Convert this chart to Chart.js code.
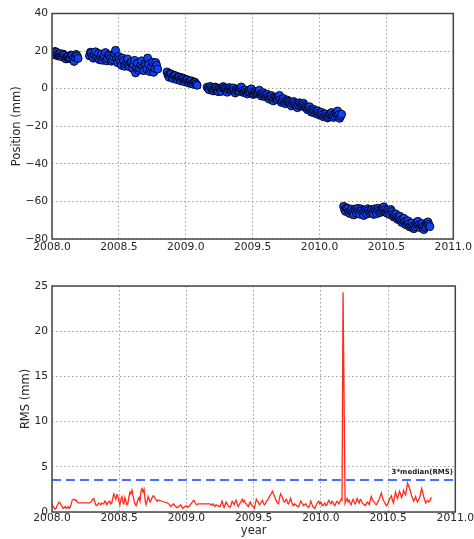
<!DOCTYPE html>
<html>
<head>
<meta charset="utf-8">
<script src="https://cdn.jsdelivr.net/npm/chart.js@4.4.1/dist/chart.umd.min.js"></script>
<style>
  html, body { margin: 0; padding: 0; background: #fff; }
  #wrap { position: relative; width: 474px; height: 539px; }
  canvas { position: absolute; left: 0; }
</style>
</head>
<body>
<div id="wrap">
  <canvas id="posChart" width="474" height="270" style="top:0"></canvas>
  <canvas id="rmsChart" width="474" height="269" style="top:270px"></canvas>
</div>
<script>
// epochs (decimal year), shared by both panels
const years = [
  // 2008.0 - 2008.2
  2008.000, 2008.015, 2008.030, 2008.045, 2008.060, 2008.075, 2008.090, 2008.105, 2008.120, 2008.135,
  2008.150, 2008.165, 2008.180, 2008.195,
  // 2008.28 - 2008.8
  2008.280, 2008.295, 2008.310, 2008.325, 2008.340, 2008.355, 2008.370, 2008.385, 2008.400, 2008.415,
  2008.430, 2008.445, 2008.460, 2008.475, 2008.490, 2008.505, 2008.520, 2008.535, 2008.550, 2008.565,
  2008.580, 2008.595, 2008.610, 2008.625, 2008.640, 2008.655, 2008.670, 2008.685, 2008.700, 2008.715,
  2008.730, 2008.745, 2008.760, 2008.775, 2008.790,
  // 2008.86 - 2009.09
  2008.860, 2008.875, 2008.890, 2008.905, 2008.920, 2008.935, 2008.950, 2008.965, 2008.980, 2008.995,
  2009.010, 2009.025, 2009.040, 2009.055, 2009.070, 2009.085,
  // 2009.16 - 2010.17
  2009.160, 2009.175, 2009.190, 2009.205, 2009.220, 2009.235, 2009.250, 2009.265, 2009.280, 2009.295,
  2009.310, 2009.325, 2009.340, 2009.355, 2009.370, 2009.385, 2009.400, 2009.415, 2009.430, 2009.445,
  2009.460, 2009.475, 2009.490, 2009.505, 2009.520, 2009.535, 2009.550, 2009.565, 2009.580, 2009.595,
  2009.610, 2009.625, 2009.640, 2009.655, 2009.670, 2009.685, 2009.700, 2009.715, 2009.730, 2009.745,
  2009.760, 2009.775, 2009.790, 2009.805, 2009.820, 2009.835, 2009.850, 2009.865, 2009.880, 2009.895,
  2009.910, 2009.925, 2009.940, 2009.955, 2009.970, 2009.985, 2010.000, 2010.015, 2010.030, 2010.045,
  2010.060, 2010.075, 2010.090, 2010.105, 2010.120, 2010.135, 2010.150, 2010.165,
  // 2010.18 - 2010.83
  2010.180, 2010.195, 2010.210, 2010.225, 2010.240, 2010.255, 2010.270, 2010.285, 2010.300, 2010.315,
  2010.330, 2010.345, 2010.360, 2010.375, 2010.390, 2010.405, 2010.420, 2010.435, 2010.450, 2010.465,
  2010.480, 2010.495, 2010.510, 2010.525, 2010.540, 2010.555, 2010.570, 2010.585, 2010.600, 2010.615,
  2010.630, 2010.645, 2010.660, 2010.675, 2010.690, 2010.705, 2010.720, 2010.735, 2010.750, 2010.765,
  2010.780, 2010.795, 2010.810, 2010.825
];

// position (mm)
const position = [
  19.2, 18.0, 19.5, 17.4, 18.6, 16.9, 17.8, 15.8, 17.2, 16.3, 17.6, 14.5, 18.2, 16.1,

  17.5, 18.9, 16.2, 19.6, 17.1, 15.4, 18.3, 16.8, 19.2, 15.9,
  17.4, 14.6, 16.9, 20.4, 13.8, 15.6, 12.4, 14.9, 13.1, 15.8,
  11.6, 14.2, 12.8, 8.4, 13.5, 10.9, 14.8, 9.6, 12.2, 16.3,
  9.1, 11.8, 8.7, 13.9, 10.4,

  8.9, 6.1, 7.8, 5.4, 6.9, 4.8, 6.2, 4.1, 5.3, 3.6, 4.7, 2.9, 4.2, 2.4, 3.3, 1.8,

  0.8, -0.6, 0.3, -1.2, 0.9, -0.8, 0.2, -1.5, 1.1, -0.4,
  -1.9, 0.6, -1.1, 0.4, -2.3, -0.2, -1.4, 0.9, -2.0, -0.7,
  -2.8, -1.0, -0.1, -3.1, -1.6, -2.6, -0.8, -3.9, -2.2, -4.4,
  -3.0, -5.6, -3.7, -6.5, -4.6, -5.9, -3.6, -7.3, -5.2, -8.0,
  -6.1, -7.4, -9.2, -6.8, -8.6, -10.1, -7.5, -9.3, -7.8, -9.8,
  -11.2, -9.6, -12.5, -11.0, -13.2, -11.8, -14.1, -12.6, -15.0, -13.4,
  -15.6, -14.0, -12.7, -15.3, -13.1, -11.9, -15.8, -13.6,

  -62.6, -65.3, -63.8, -66.4, -64.1, -67.2, -65.0, -63.7, -66.8, -64.9,
  -67.5, -65.6, -63.9, -66.2, -64.4, -66.9, -65.1, -63.6, -66.0, -64.3,
  -62.9, -65.8, -64.6, -67.0, -65.4, -68.3, -66.7, -69.6, -67.9, -71.2,
  -69.0, -72.4, -70.3, -73.6, -71.5, -74.5, -72.2, -70.6, -73.9, -71.8,
  -75.0, -72.7, -70.9, -73.4
];

// RMS (mm)
const rms = [
  0.8, 0.5, 0.4, 0.9, 1.0, 0.6, 0.5, 0.4, 0.6, 0.5, 1.3, 1.4, 1.3, 1.0,

  1.0, 1.2, 1.5, 0.8, 0.8, 0.9, 1.0, 0.9, 1.1, 1.0,
  1.2, 1.0, 2.0, 1.4, 1.8, 0.8, 1.7, 0.9, 1.2, 1.0,
  2.2, 2.4, 1.3, 0.7, 1.4, 1.2, 2.6, 2.5, 0.8, 1.7,
  1.1, 1.6, 1.7, 1.4, 1.3,

  1.0, 0.8, 0.7, 0.9, 0.6, 0.5, 0.7, 0.6, 0.5, 0.6, 0.5, 0.7, 1.0, 1.3, 0.9, 0.9,

  0.9, 0.9, 0.8, 0.7, 0.8, 0.7, 0.6, 1.2, 0.5, 1.1,
  0.7, 0.5, 1.2, 0.8, 1.3, 0.6, 1.0, 1.4, 1.3, 0.9,
  0.6, 1.1, 0.7, 0.4, 1.4, 1.1, 0.9, 1.3, 0.8, 1.2,
  1.5, 1.9, 2.3, 1.8, 1.2, 0.9, 2.0, 1.6, 1.1, 1.4,
  0.9, 1.5, 0.8, 0.9, 0.7, 0.6, 1.2, 0.9, 0.8, 0.7,
  0.5, 1.2, 0.6, 0.4, 0.9, 1.2, 1.1, 0.7, 1.0, 0.8,
  1.3, 0.9, 1.1, 0.7, 1.2, 0.9, 1.4, 24.3,

  1.0, 1.5, 1.3, 0.8, 1.4, 0.9, 1.5, 1.0, 1.3, 0.9,
  0.7, 1.1, 0.8, 1.7, 1.2, 0.9, 1.0, 1.5, 2.1, 1.3,
  0.9, 0.8, 1.4, 1.8, 1.0, 2.2, 1.5, 2.3, 1.6, 2.4,
  1.9, 3.2, 2.6, 1.8, 1.2, 1.7, 1.1, 1.6, 2.6, 1.7,
  1.0, 1.3, 1.2, 1.6
];

// in-between epochs (the series is denser than one value per 0.015 yr)
const midYears = [
  2008.0075, 2008.0225, 2008.0375, 2008.0525, 2008.0675, 2008.0825, 2008.0975, 2008.1125, 2008.1275, 2008.1425,
  2008.1575, 2008.1725, 2008.1875,

  2008.2875, 2008.3025, 2008.3175, 2008.3325, 2008.3475, 2008.3625, 2008.3775, 2008.3925, 2008.4075, 2008.4225,
  2008.4375, 2008.4525, 2008.4675, 2008.4825, 2008.4975, 2008.5125, 2008.5275, 2008.5425, 2008.5575, 2008.5725,
  2008.5875, 2008.6025, 2008.6175, 2008.6325, 2008.6475, 2008.6625, 2008.6775, 2008.6925, 2008.7075, 2008.7225,
  2008.7375, 2008.7525, 2008.7675, 2008.7825,

  2008.8675, 2008.8825, 2008.8975, 2008.9125, 2008.9275, 2008.9425, 2008.9575, 2008.9725, 2008.9875, 2009.0025,
  2009.0175, 2009.0325, 2009.0475, 2009.0625, 2009.0775,

  2009.1675, 2009.1825, 2009.1975, 2009.2125, 2009.2275, 2009.2425, 2009.2575, 2009.2725, 2009.2875, 2009.3025,
  2009.3175, 2009.3325, 2009.3475, 2009.3625, 2009.3775, 2009.3925, 2009.4075, 2009.4225, 2009.4375, 2009.4525,
  2009.4675, 2009.4825, 2009.4975, 2009.5125, 2009.5275, 2009.5425, 2009.5575, 2009.5725, 2009.5875, 2009.6025,
  2009.6175, 2009.6325, 2009.6475, 2009.6625, 2009.6775, 2009.6925, 2009.7075, 2009.7225, 2009.7375, 2009.7525,
  2009.7675, 2009.7825, 2009.7975, 2009.8125, 2009.8275, 2009.8425, 2009.8575, 2009.8725, 2009.8875, 2009.9025,
  2009.9175, 2009.9325, 2009.9475, 2009.9625, 2009.9775, 2009.9925, 2010.0075, 2010.0225, 2010.0375, 2010.0525,
  2010.0675, 2010.0825, 2010.0975, 2010.1125, 2010.1275, 2010.1425, 2010.1575,

  2010.1875, 2010.2025, 2010.2175, 2010.2325, 2010.2475, 2010.2625, 2010.2775, 2010.2925, 2010.3075, 2010.3225,
  2010.3375, 2010.3525, 2010.3675, 2010.3825, 2010.3975, 2010.4125, 2010.4275, 2010.4425, 2010.4575, 2010.4725,
  2010.4875, 2010.5025, 2010.5175, 2010.5325, 2010.5475, 2010.5625, 2010.5775, 2010.5925, 2010.6075, 2010.6225,
  2010.6375, 2010.6525, 2010.6675, 2010.6825, 2010.6975, 2010.7125, 2010.7275, 2010.7425, 2010.7575, 2010.7725,
  2010.7875, 2010.8025, 2010.8175
];

const midPosition = [
  18.1, 19.8, 18.3, 17.9, 17.5, 18.4, 16.6, 16.9, 16.0, 17.9, 15.9, 16.8, 17.4,

  19.4, 17.2, 18.0, 16.4, 18.7, 16.9, 15.1, 17.6, 14.8, 18.0,
  16.1, 15.5, 18.6, 16.2, 17.1, 14.0, 16.3, 11.9, 14.4, 12.7,
  13.9, 10.7, 15.0, 11.2, 9.8, 12.6, 11.3, 13.1, 10.5, 12.9,
  10.6, 14.1, 10.9, 12.3,

  7.2, 8.0, 6.0, 7.1, 5.5, 6.3, 4.9, 5.8, 4.2, 4.9, 3.4, 3.9, 2.8, 3.6, 2.5,

  0.1, 1.2, -0.7, -0.2, 0.3, -1.6, -0.4, 0.5, 0.2, -1.3,
  -0.5, -0.2, -0.4, -1.0, -1.1, -0.9, -0.1, -1.2, -1.5, -1.8,
  -1.7, -2.1, -1.9, -2.4, -2.0, -1.8, -2.9, -3.0, -3.3, -3.6,
  -4.3, -4.5, -4.9, -5.3, -5.0, -4.7, -5.8, -6.4, -6.7, -7.0,
  -6.8, -8.3, -7.9, -7.7, -9.5, -8.8, -8.4, -8.6, -8.9, -10.4,
  -10.3, -11.3, -11.7, -12.0, -12.4, -13.0, -13.4, -13.8, -14.2, -14.6,
  -14.9, -13.5, -14.1, -14.3, -12.6, -13.9, -14.7,

  -64.5, -63.4, -65.6, -65.0, -66.0, -64.2, -66.3, -65.4, -63.9, -66.1,
  -64.8, -66.7, -64.9, -65.4, -65.8, -64.0, -66.5, -64.8, -65.2, -63.5,
  -64.4, -66.2, -65.9, -64.3, -66.8, -67.5, -68.4, -68.9, -69.8, -70.1,
  -70.8, -71.4, -71.9, -72.8, -73.2, -73.5, -71.4, -72.5, -72.6, -73.4,
  -73.8, -71.5, -72.3
];

const midRms = [
  0.6, 0.3, 0.7, 1.1, 0.8, 0.4, 0.6, 0.5, 0.4, 0.9, 1.4, 1.3, 1.1,

  1.1, 1.4, 1.2, 0.7, 1.0, 0.8, 0.9, 1.2, 0.8, 1.1,
  0.9, 1.6, 1.7, 1.9, 1.2, 1.4, 1.1, 1.6, 0.8, 1.7,
  2.0, 1.8, 0.9, 1.0, 1.6, 2.3, 2.2, 1.3, 1.2, 1.4,
  1.3, 1.8, 1.5, 1.2,

  0.9, 0.6, 0.8, 0.7, 0.5, 0.6, 0.8, 0.4, 0.6, 0.7, 0.6, 0.9, 1.2, 1.1, 0.8,

  0.9, 0.8, 0.9, 0.6, 0.7, 0.6, 0.9, 0.8, 0.8, 0.9,
  0.6, 0.8, 1.0, 1.1, 0.9, 0.8, 1.2, 1.1, 1.0, 0.7,
  0.9, 0.8, 0.6, 0.9, 1.2, 0.8, 1.1, 1.0, 0.9, 1.3,
  1.7, 2.1, 2.0, 1.4, 1.0, 1.5, 1.8, 1.2, 1.3, 1.0,
  1.2, 1.1, 0.7, 0.8, 0.6, 0.9, 1.0, 0.7, 0.9, 0.6,
  0.8, 0.9, 0.5, 0.7, 1.1, 0.9, 0.8, 0.9, 0.7, 1.1,
  1.0, 1.2, 0.8, 1.0, 1.1, 1.2, 1.3,

  1.3, 1.1, 1.0, 1.2, 1.1, 1.2, 1.2, 1.4, 1.0, 0.8,
  0.9, 1.0, 1.3, 1.4, 1.1, 0.8, 1.2, 1.8, 1.6, 1.1,
  0.7, 1.1, 1.6, 1.3, 1.6, 1.8, 1.9, 2.0, 1.9, 2.1,
  2.5, 2.9, 2.2, 1.5, 1.4, 1.3, 1.4, 2.1, 2.2, 1.3,
  1.2, 1.1, 1.5
];

const xTicks = [2008.0, 2008.5, 2009.0, 2009.5, 2010.0, 2010.5, 2011.0];
const posTicks = [40, 20, 0, -20, -40, -60, -80];
const rmsTicks = [0, 5, 10, 15, 20, 25];

const medianLevel = 3.54;           // 3*median(RMS)
const medianLabel = '3*median(RMS)';
const labelAt = { x: 2010.526, y: 4.2 };

const textColor = '#262626';
const gridColor = '#a0a0a0';

// merge both epoch lists into one time-ordered table
function series(values, midValues) {
  const pts = years.map((x, i) => ({ x: x, y: values[i] }))
    .concat(midYears.map((x, i) => ({ x: x, y: midValues[i] })));
  return pts.sort((a, b) => a.x - b.x);
}

// box around the plot like matplotlib axes
const frame = {
  id: 'frame',
  afterDatasetsDraw(chart) {
    const { ctx, chartArea: a } = chart;
    ctx.save();
    ctx.strokeStyle = '#444';
    ctx.lineWidth = 1.5;
    ctx.strokeRect(a.left, a.top, a.right - a.left, a.bottom - a.top);
    ctx.restore();
  }
};

const medianText = {
  id: 'medianText',
  afterDatasetsDraw(chart) {
    const { ctx, scales } = chart;
    ctx.save();
    ctx.font = 'bold 7px "DejaVu Sans"';
    ctx.fillStyle = '#222';
    ctx.textBaseline = 'alphabetic';
    ctx.fillText(medianLabel, scales.x.getPixelForValue(labelAt.x), scales.y.getPixelForValue(labelAt.y));
    ctx.restore();
  }
};

function fixTicks(list) {
  return s => { s.ticks = list.map(v => ({ value: v })); };
}

function xAxis(height, pad, withTitle) {
  return {
    type: 'linear',
    min: 2008, max: 2011,
    afterBuildTicks: fixTicks(xTicks),
    afterFit: s => { s.height = height; },
    grid: { color: gridColor, lineWidth: 1, drawTicks: false },
    border: { display: false, dash: [1.5, 2.5] },
    ticks: {
      padding: pad, color: textColor, maxRotation: 0, autoSkip: false,
      font: { family: 'DejaVu Sans', size: 10.7 },
      callback: v => v.toFixed(1)
    },
    title: {
      display: withTitle, text: 'year', color: textColor,
      font: { family: 'DejaVu Sans', size: 11.5 },
      padding: { top: 0, bottom: 1.1 }
    }
  };
}

function yAxis(min, max, list, label, titlePad) {
  return {
    min: min, max: max,
    afterBuildTicks: fixTicks(list),
    afterFit: s => { s.width = 52; },
    grid: { color: gridColor, lineWidth: 1, drawTicks: false },
    border: { display: false, dash: [1.5, 2.5] },
    ticks: {
      padding: 4, color: textColor, autoSkip: false,
      font: { family: 'DejaVu Sans', size: 10.7 },
      callback: v => (v < 0 ? '\u2212' + Math.abs(v) : String(v))
    },
    title: {
      display: true, text: label, color: textColor,
      font: { family: 'DejaVu Sans', size: 11.5 },
      padding: { top: titlePad, bottom: 0 }
    }
  };
}

const common = {
  responsive: false,
  animation: false,
  events: [],
  plugins: { legend: { display: false }, tooltip: { enabled: false } }
};

new Chart(document.getElementById('posChart'), {
  type: 'scatter',
  data: {
    datasets: [{
      data: series(position, midPosition),
      pointRadius: 4,
      backgroundColor: '#1040ff',
      borderColor: '#000',
      borderWidth: 0.9
    }]
  },
  options: Object.assign({}, common, {
    layout: { padding: { top: 13.5, right: 16, left: 0, bottom: 0 } },
    scales: {
      x: xAxis(31, 2, false),
      y: yAxis(-80, 40, posTicks, 'Position (mm)', 10.6)
    }
  }),
  plugins: [frame]
});

new Chart(document.getElementById('rmsChart'), {
  type: 'line',
  data: {
    datasets: [
      {
        data: series(rms, midRms),
        borderColor: '#ff2a1a',
        borderWidth: 1.3,
        pointRadius: 0,
        tension: 0
      },
      {
        data: [{ x: 2008, y: medianLevel }, { x: 2011, y: medianLevel }],
        borderColor: '#4a6cff',
        borderWidth: 2,
        borderDash: [9, 5],
        pointRadius: 0
      }
    ]
  },
  options: Object.assign({}, common, {
    layout: { padding: { top: 16, right: 16, left: 0, bottom: 0 } },
    scales: {
      x: xAxis(27, 0, true),
      y: yAxis(0, 25, rmsTicks, 'RMS (mm)', 19.1)
    }
  }),
  plugins: [frame, medianText]
});
</script>
</body>
</html>
